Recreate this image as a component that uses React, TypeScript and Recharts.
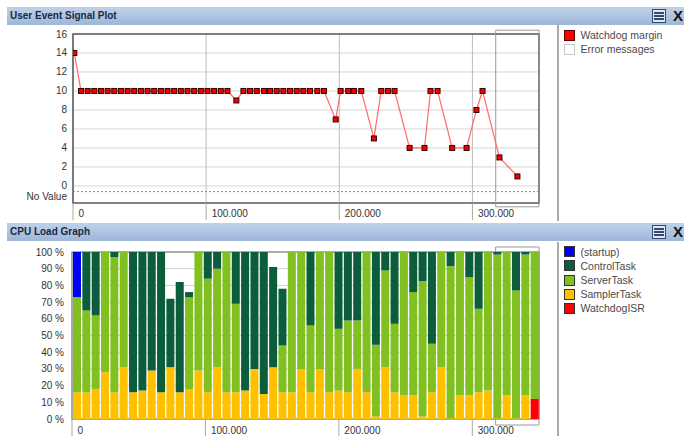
import React from 'react';
import {
  LineChart, Line, BarChart, Bar, XAxis, YAxis, CartesianGrid, ReferenceLine, ReferenceArea,
} from 'recharts';

// User Event Signal Plot: watchdog margin samples
const marginTimes = [
  1000, 6000, 11000, 16000, 21000, 26000, 31000, 36000, 41000, 46000, 51000, 56000,
  61000, 66000, 71000, 76000, 81000, 86000, 91000, 96000, 101000, 106000, 111000, 116000,
  122700, 128000, 133000, 138000, 143500, 148000, 153000, 158000, 163000, 168000, 173000,
  178000, 183500, 188500, 197300, 201000, 206700, 211000, 216500, 226000, 231500, 236500,
  241500, 252800, 264000, 268500, 273800, 284800, 295600, 303000, 307600, 320300, 333800,
];
const marginValues = [
  14,
  10, 10, 10, 10, 10, 10, 10, 10, 10, 10, 10, 10, 10, 10, 10, 10, 10, 10, 10, 10, 10, 10, 10,
  9,
  10, 10, 10, 10, 10, 10, 10, 10, 10, 10, 10, 10, 10,
  7,
  10, 10, 10, 10,
  5,
  10, 10, 10,
  4, 4,
  10, 10,
  4, 4,
  8, 10, 3, 1,
];
const marginTicks = [-1.15, 0, 2, 4, 6, 8, 10, 12, 14, 16];
const marginGrid = [0, 2, 4, 6, 8, 10, 12, 14, 16];

// CPU Load Graph: one stacked bar per 7.000 time slice (percent)
const loadTimes = [
  3500, 10500, 17500, 24500, 31500, 38500, 45500, 52500, 59500, 66500,
  73500, 80500, 87500, 94500, 101500, 108500, 115500, 122500, 129500, 136500,
  143500, 150500, 157500, 164500, 171500, 178500, 185500, 192500, 199500, 206500,
  213500, 220500, 227500, 234500, 241500, 248500, 255500, 262500, 269500, 276500,
  283500, 290500, 297500, 304500, 311500, 318500, 325500, 332500, 339500, 346500,
];
const startupLoad = [
  27, 0, 0, 0, 0, 0, 0, 0, 0, 0,
  0, 0, 0, 0, 0, 0, 0, 0, 0, 0,
  0, 0, 0, 0, 0, 0, 0, 0, 0, 0,
  0, 0, 0, 0, 0, 0, 0, 0, 0, 0,
  0, 0, 0, 0, 0, 0, 0, 0, 0, 0,
];
const controlLoad = [
  0, 35, 38, 0, 3, 0, 84, 83, 71, 84,
  41, 66, 3, 0, 16, 10, 0, 31, 83, 70,
  85, 60, 34, 0, 0, 44, 0, 0, 46, 41,
  41, 0, 55.5, 11, 43, 0, 24, 17.5, 55, 0,
  8.5, 0, 15, 34, 0, 1.5, 0, 23, 1.5, 0,
];
const serverLoad = [
  57, 49, 44, 72, 81, 69, 0, 0, 0, 0,
  0, 0, 55, 71, 68, 59, 84, 53, 0, 0,
  0, 0, 28, 84, 70, 40, 70, 84, 37, 43,
  29, 84, 43, 58, 41, 86, 62, 81, 29, 69,
  91, 86, 71, 50, 83, 98, 86, 76.5, 84.5, 88,
];
const samplerLoad = [
  16, 16, 18, 28, 16, 31, 16, 17, 29, 16,
  31, 16, 18, 29, 16, 31, 16, 16, 17, 30,
  15, 31, 16, 16, 30, 16, 30, 16, 17, 16,
  30, 16, 1.5, 31, 16, 14, 14, 1.5, 16, 31,
  0.5, 14, 14, 16, 17, 0.5, 14, 0.5, 14, 0,
];
const watchdogLoad = [
  0, 0, 0, 0, 0, 0, 0, 0, 0, 0,
  0, 0, 0, 0, 0, 0, 0, 0, 0, 0,
  0, 0, 0, 0, 0, 0, 0, 0, 0, 0,
  0, 0, 0, 0, 0, 0, 0, 0, 0, 0,
  0, 0, 0, 0, 0, 0, 0, 0, 0, 12,
];
const loadTicks = [0, 10, 20, 30, 40, 50, 60, 70, 80, 90, 100];
const timeTicks = [0, 100000, 200000, 300000];

const FONT = "'Liberation Sans', Arial, sans-serif";

const marginData = marginTimes.map((t, i) => ({ t, margin: marginValues[i] }));
const loadData = loadTimes.map((t, i) => ({
  t,
  watchdog: watchdogLoad[i],
  sampler: samplerLoad[i],
  server: serverLoad[i],
  control: controlLoad[i],
  startup: startupLoad[i],
}));

// stack order bottom -> top
const loadSeries = [
  { key: 'watchdog', name: 'WatchdogISR', color: '#ff0000' },
  { key: 'sampler', name: 'SamplerTask', color: '#ffc000' },
  { key: 'server', name: 'ServerTask', color: '#80c020' },
  { key: 'control', name: 'ControlTask', color: '#0b5d3b' },
  { key: 'startup', name: '(startup)', color: '#0000ff' },
];

const fmtTime = (v: number) => String(v).replace(/\B(?=(\d{3})+(?!\d))/g, '.');

const TimeTick = ({ x, y, payload, labelDy }: any) => (
  <g>
    <line x1={x} x2={x} y1={y} y2={y + 17} stroke="#a8a8a8" />
    <text x={x + 5.5} y={y + labelDy} fontSize={10} fill="#333" fontFamily={FONT}>
      {fmtTime(payload.value)}
    </text>
  </g>
);

const ValueTick = ({ x, y, payload, format }: any) => (
  <text x={x} y={y} dy={3.5} textAnchor="end" fontSize={10} fill="#333" fontFamily={FONT}>
    {format(payload.value)}
  </text>
);

const SquareDot = (props: any) => {
  const { cx, cy, index } = props;
  if (cx == null || cy == null) return <g key={index} />;
  return (
    <rect key={index} x={cx - 2.5} y={cy - 2.5} width={5} height={5}
      fill="#f20000" stroke="#3a0000" strokeWidth={1} />
  );
};

const TitleBar = ({ title, top }: { title: string; top: number }) => (
  <div style={{
    position: 'absolute', left: 7, right: 0, top, height: 18,
    background: 'linear-gradient(#bfd2ea, #9db7d9)',
  }}>
    <div style={{
      position: 'absolute', left: 3, top: 3, fontFamily: FONT, fontWeight: 'bold',
      fontSize: 10, color: '#1b2940',
    }}>{title}</div>
    <div style={{
      position: 'absolute', left: 645, top: 2, width: 12, height: 12,
      border: '1px solid #34496e', background: '#dfe8f4',
    }}>
      {[2, 5, 8].map((t) => (
        <div key={t} style={{ position: 'absolute', left: 1, top: t, width: 10, height: 1.5, background: '#34496e' }} />
      ))}
    </div>
    <div style={{
      position: 'absolute', left: 666, top: 0, fontFamily: FONT, fontWeight: 'bold',
      fontSize: 15, color: '#111',
    }}>X</div>
  </div>
);

const LegendBox = ({ items, top }: { items: { name: string; color: string; border: string }[]; top: number }) => (
  <div style={{ position: 'absolute', left: 564, top, fontFamily: FONT, fontSize: 10.5, color: '#4a4a4a' }}>
    {items.map((it) => (
      <div key={it.name} style={{ display: 'flex', alignItems: 'center', height: 14.2 }}>
        <span style={{
          display: 'inline-block', width: 11, height: 11, background: it.color,
          border: `1px solid ${it.border}`, boxSizing: 'border-box', marginRight: 5.5,
        }} />
        <span>{it.name}</span>
      </div>
    ))}
  </div>
);

const Divider = ({ top, height }: { top: number; height: number }) => (
  <div style={{ position: 'absolute', left: 557, top, width: 2, height, background: '#a9a9a9' }} />
);

const marginFormat = (v: number) => (v < 0 ? 'No Value' : String(v));
const loadFormat = (v: number) => `${v} %`;

const App = () => {
  return (
    <div style={{
      position: 'fixed', left: 0, top: 0, width: 684, height: 436, background: '#fff', overflow: 'hidden',
    }}>
      <TitleBar title="User Event Signal Plot" top={7} />
      <Divider top={25} height={196} />
      <LegendBox
        top={28}
        items={[
          { name: 'Watchdog margin', color: '#ff0000', border: '#5a0000' },
          { name: 'Error messages', color: '#ffffff', border: '#c8c8c8' },
        ]}
      />
      <div style={{ position: 'absolute', left: 0, top: 26 }}>
        <LineChart width={556} height={196} data={marginData}
          margin={{ top: 8, right: 17, bottom: 0, left: 13 }}>
          <CartesianGrid horizontal vertical={false} stroke="#d6d6d6" horizontalValues={marginGrid} />
          <CartesianGrid horizontal={false} vertical stroke="#bdbdbd" />
          <XAxis dataKey="t" type="number" domain={[0, 350000]} ticks={timeTicks} interval={0}
            allowDataOverflow height={19} tickSize={0} tickMargin={0} tickLine={false} axisLine={false}
            tick={(p: any) => <TimeTick {...p} labelDy={14} />} />
          <YAxis type="number" domain={[-1.8, 16]} ticks={marginTicks} interval={0} allowDataOverflow
            width={60} tickLine={false} axisLine={false} tickSize={4} tickMargin={2}
            tick={(p: any) => <ValueTick {...p} format={marginFormat} />} />
          <ReferenceLine y={-0.6} stroke="#8a8a8a" strokeDasharray="2 2" />
          <ReferenceArea x1={0} x2={350000} y1={-1.8} y2={16} fill="none" stroke="#5a5a5a"
            strokeWidth={1.5} ifOverflow="visible" />
          <ReferenceArea x1={317500} x2={350000} y1={-2.2} y2={16.4} fill="none" stroke="#9a9a9a"
            strokeWidth={1} ifOverflow="visible" />
          <Line dataKey="margin" type="linear" stroke="#ff6a6a" strokeWidth={1.2}
            dot={SquareDot} activeDot={false} isAnimationActive={false} />
        </LineChart>
      </div>

      <TitleBar title="CPU Load Graph" top={223} />
      <Divider top={242} height={194} />
      <LegendBox
        top={244.6}
        items={[...loadSeries].reverse().map((s) => ({ name: s.name, color: s.color, border: '#333' }))}
      />
      <div style={{ position: 'absolute', left: 0, top: 242 }}>
        <BarChart width={556} height={194} data={loadData}
          margin={{ top: 10, right: 17, bottom: 0, left: 12 }} barSize={8}>
          <CartesianGrid vertical={false} stroke="#d0d0d0" />
          <XAxis dataKey="t" type="number" domain={[0, 350000]} ticks={timeTicks} interval={0}
            allowDataOverflow height={17} tickSize={0} tickMargin={0} tickLine={false} axisLine={false}
            tick={(p: any) => <TimeTick {...p} labelDy={15} />} />
          <YAxis type="number" domain={[0, 100]} ticks={loadTicks} interval={0} width={60}
            tickLine={false} axisLine={false} tickSize={6} tickMargin={2}
            tick={(p: any) => <ValueTick {...p} format={loadFormat} />} />
          {loadSeries.map((s) => (
            <Bar key={s.key} dataKey={s.key} name={s.name} stackId="load" fill={s.color}
              isAnimationActive={false} />
          ))}
          <ReferenceArea x1={0} x2={350000} y1={0} y2={100} fill="none" stroke="#707070"
            strokeWidth={1.2} ifOverflow="visible" />
          <ReferenceArea x1={317500} x2={350000} y1={-3.6} y2={103} fill="none" stroke="#9a9a9a"
            strokeWidth={1} ifOverflow="visible" />
        </BarChart>
      </div>
    </div>
  );
};

export default App;
